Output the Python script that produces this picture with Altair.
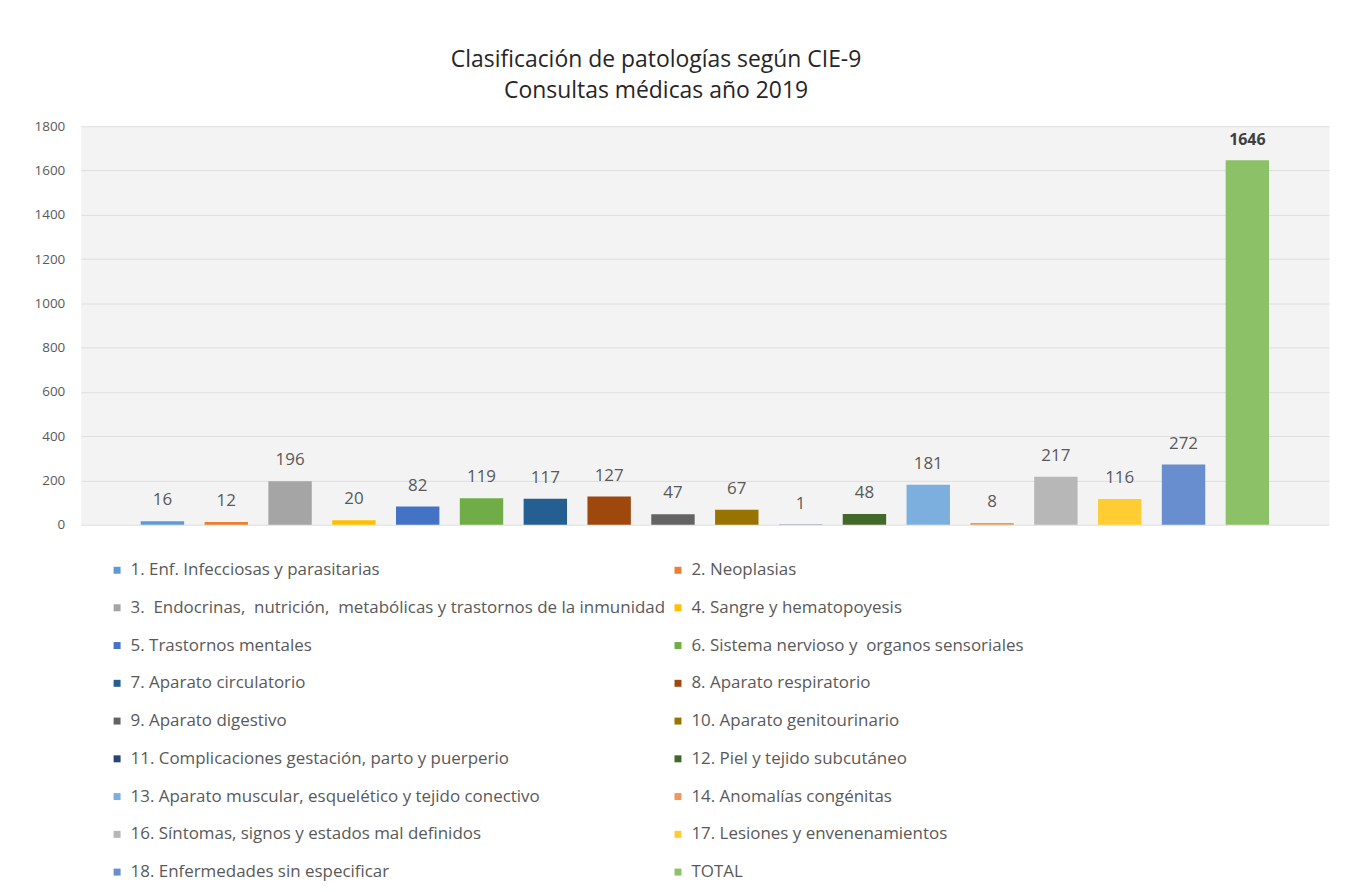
import altair as alt
import pandas as pd

categories = [
    "1. Enf. Infecciosas y parasitarias",
    "2. Neoplasias",
    "3. \u00a0Endocrinas, \u00a0nutrición, \u00a0metabólicas y trastornos de la inmunidad",
    "4. Sangre y hematopoyesis",
    "5. Trastornos mentales",
    "6. Sistema nervioso y \u00a0organos sensoriales",
    "7. Aparato circulatorio",
    "8. Aparato respiratorio",
    "9. Aparato digestivo",
    "10. Aparato genitourinario",
    "11. Complicaciones gestación, parto y puerperio",
    "12. Piel y tejido subcutáneo",
    "13. Aparato muscular, esquelético y tejido conectivo",
    "14. Anomalías congénitas",
    "16. Síntomas, signos y estados mal definidos",
    "17. Lesiones y envenenamientos",
    "18. Enfermedades sin especificar",
    "TOTAL",
]
values = [16, 12, 196, 20, 82, 119, 117, 127, 47, 67, 1, 48, 181, 8, 217, 116, 272, 1646]
colors = [
    "#5B9BD5", "#ED7D31", "#A5A5A5", "#FFC000", "#4472C4", "#70AD47",
    "#255E91", "#9E480E", "#636363", "#997300", "#264478", "#43682B",
    "#7CAFDD", "#F1975A", "#B7B7B7", "#FFCD33", "#698ED0", "#8CC168",
]
y_ticks = [0, 200, 400, 600, 800, 1000, 1200, 1400, 1600, 1800]

df = pd.DataFrame({"cat": categories, "value": values})

# legend fills column by column: reorder so it reads row by row (1,2 / 3,4 / ...)
legend_order = categories[0::2] + categories[1::2]
legend_colors = colors[0::2] + colors[1::2]

FONT = "Open Sans"
TXT = "#595959"

x = alt.X("cat:N", sort=categories, axis=None,
          scale=alt.Scale(paddingInner=0.32, paddingOuter=0.94))
y = alt.Y("value:Q", title=None,
          scale=alt.Scale(domain=[0, 1800], nice=False),
          axis=alt.Axis(values=y_ticks, format="d", domain=False, ticks=False, labelPadding=16,
                        labelFontSize=13.5, labelColor=TXT, labelFont=FONT,
                        gridColor="#dedede", gridWidth=1))

bars = alt.Chart(df).mark_bar().encode(
    x=x,
    y=y,
    color=alt.Color("cat:N", scale=alt.Scale(domain=legend_order, range=legend_colors),
                    legend=alt.Legend(title=None, orient="none", legendX=28, legendY=437,
                                      columns=2, columnPadding=4, rowPadding=19.9,
                                      symbolType="square", symbolSize=49,
                                      symbolStrokeWidth=0, labelFontSize=17,
                                      labelFont=FONT, labelColor=TXT, labelLimit=0,
                                      labelOffset=5)),
)

labels = alt.Chart(df).transform_filter(alt.datum.cat != "TOTAL").mark_text(
    baseline="bottom", dy=-12, fontSize=17, font=FONT, color=TXT).encode(
    x=x,
    y=alt.Y("value:Q"),
    text=alt.Text("value:Q"),
)
total_label = alt.Chart(df).transform_filter(alt.datum.cat == "TOTAL").mark_text(
    baseline="bottom", dy=-12, fontSize=16, font=FONT, color="#404040", fontWeight="bold").encode(
    x=x,
    y=alt.Y("value:Q"),
    text=alt.Text("value:Q"),
)

chart = (bars + labels + total_label).properties(
    width=1253, height=400,
    background="white",
    title=alt.TitleParams(["Clasificación de patologías según CIE-9", "Consultas médicas año 2019"],
                          fontSize=23, font=FONT, fontWeight="normal", color="#262626",
                          anchor="middle", dx=-49, lineHeight=31, offset=16),
    autosize=alt.AutoSizeParams(type="none"),
    padding={"left": 73, "top": 117, "right": 10, "bottom": 358},
).configure_view(fill="#f3f3f3", stroke="transparent")

chart.save("out.html", embed_options={"renderer": "svg", "actions": False})
